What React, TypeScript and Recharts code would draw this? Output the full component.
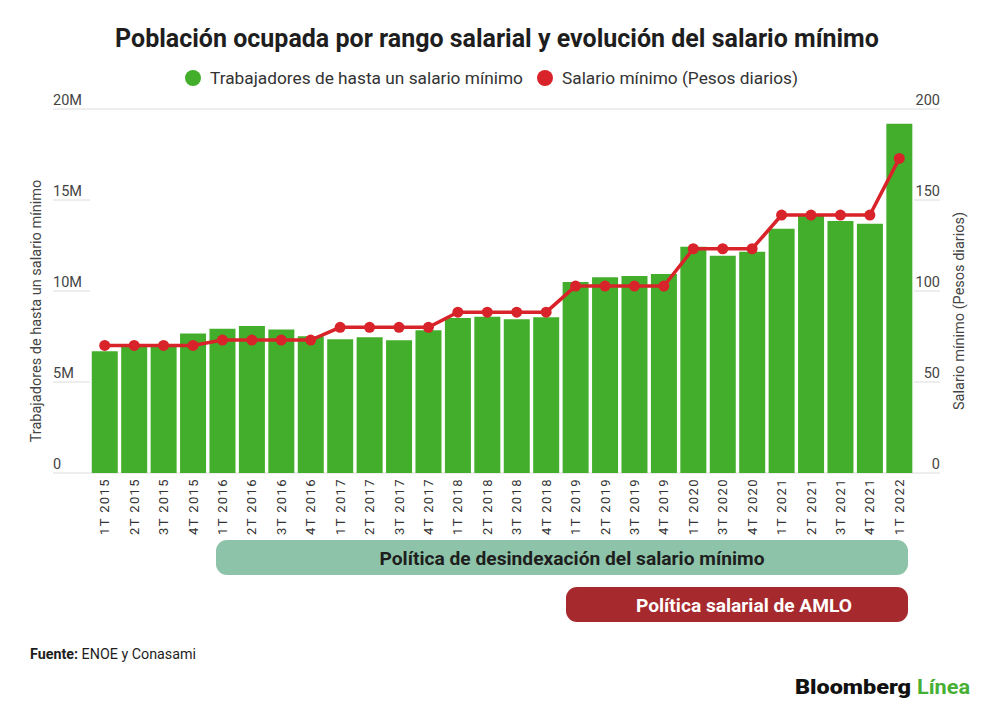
import React from "react";
import {
  ComposedChart,
  Bar,
  Line,
  XAxis,
  YAxis,
  CartesianGrid,
} from "recharts";

const categories = [
  "1T 2015", "2T 2015", "3T 2015", "4T 2015",
  "1T 2016", "2T 2016", "3T 2016", "4T 2016",
  "1T 2017", "2T 2017", "3T 2017", "4T 2017",
  "1T 2018", "2T 2018", "3T 2018", "4T 2018",
  "1T 2019", "2T 2019", "3T 2019", "4T 2019",
  "1T 2020", "3T 2020", "4T 2020",
  "1T 2021", "2T 2021", "3T 2021", "4T 2021",
  "1T 2022",
];

// workers earning up to one minimum wage (people)
const trabajadores = [
  6690000, 6930000, 6930000, 7660000,
  7920000, 8080000, 7880000, 7520000,
  7350000, 7460000, 7300000, 7850000,
  8520000, 8580000, 8450000, 8560000,
  10500000, 10760000, 10830000, 10940000,
  12430000, 11930000, 12150000,
  13420000, 14170000, 13840000, 13690000,
  19190000,
];

// daily minimum wage (pesos)
const salarioMinimo = [
  70.1, 70.1, 70.1, 70.1,
  73.04, 73.04, 73.04, 73.04,
  80.04, 80.04, 80.04, 80.04,
  88.36, 88.36, 88.36, 88.36,
  102.68, 102.68, 102.68, 102.68,
  123.22, 123.22, 123.22,
  141.7, 141.7, 141.7, 141.7,
  172.87,
];

const leftTicks = [0, 5000000, 10000000, 15000000, 20000000];
const rightTicks = [0, 50, 100, 150, 200];

const data = categories.map((periodo, i) => ({
  periodo,
  trabajadores: trabajadores[i],
  salario: salarioMinimo[i],
}));

const GREEN = "#43ae2b";
const RED = "#d9232a";
const GRID = "#dcdcdc";
const FONT = "Roboto, 'Noto Sans', sans-serif";

const W = 1000;
const H = 719;

const fmtMillones = (v: number) => (v === 0 ? "0" : `${v / 1000000}M`);

function LeftTick({ y, payload }: any) {
  return (
    <g>
      <line x1={53} x2={90} y1={y} y2={y} stroke={GRID} strokeWidth={1} />
      <text x={53} y={y - 9} dominantBaseline="central" fill="#444" fontSize={14.5} fontFamily={FONT}>
        {fmtMillones(payload.value)}
      </text>
    </g>
  );
}

function RightTick({ y, payload }: any) {
  return (
    <g>
      <line x1={914} x2={940} y1={y} y2={y} stroke={GRID} strokeWidth={1} />
      <text x={940} y={y - 9} textAnchor="end" dominantBaseline="central" fill="#444" fontSize={14.5} fontFamily={FONT}>
        {payload.value}
      </text>
    </g>
  );
}

function BottomTick({ x, payload }: any) {
  const y = 478;
  return (
    <text
      x={x}
      y={y}
      transform={`rotate(-90, ${x}, ${y})`}
      textAnchor="end"
      dominantBaseline="central"
      fill="#333"
      fontSize={13}
      letterSpacing={1.4}
      fontFamily={FONT}
    >
      {payload.value}
    </text>
  );
}

export default function App() {
  return (
    <div style={{ position: "absolute", left: 0, top: 0, width: W, height: H, background: "#fff" }}>
      <ComposedChart
        width={W}
        height={H}
        data={data}
        margin={{ top: 109, right: 0, bottom: 186, left: 0 }}
        barCategoryGap="6%"
      >
        <CartesianGrid vertical={false} stroke={GRID} />
        <XAxis
          dataKey="periodo"
          height={60}
          interval={0}
          axisLine={false}
          tickLine={false}
          tick={<BottomTick />}
        />
        <YAxis
          yAxisId="left"
          width={90}
          domain={[0, 20000000]}
          ticks={leftTicks}
          axisLine={false}
          tickLine={false}
          tick={<LeftTick />}
        />
        <YAxis
          yAxisId="right"
          orientation="right"
          width={86}
          domain={[0, 200]}
          ticks={rightTicks}
          axisLine={false}
          tickLine={false}
          tick={<RightTick />}
        />
        <Bar yAxisId="left" dataKey="trabajadores" fill={GREEN} isAnimationActive={false} />
        <Line
          yAxisId="right"
          dataKey="salario"
          type="linear"
          stroke={RED}
          strokeWidth={3.5}
          dot={{ r: 5.5, fill: RED, stroke: "none" }}
          isAnimationActive={false}
        />
      </ComposedChart>

      <svg
        width={W}
        height={H}
        style={{ position: "absolute", left: 0, top: 0, pointerEvents: "none" }}
        fontFamily={FONT}
      >
        <text x={497} y={47} textAnchor="middle" fontSize={25} fontWeight={700} fill="#1e1e1e">
          Población ocupada por rango salarial y evolución del salario mínimo
        </text>

        <circle cx={193} cy={78} r={8} fill={GREEN} />
        <text x={210} y={78} dominantBaseline="central" fontSize={17.3} fill="#333">
          Trabajadores de hasta un salario mínimo
        </text>
        <circle cx={545} cy={78} r={8} fill={RED} />
        <text x={562} y={78} dominantBaseline="central" fontSize={17.3} fill="#333">
          Salario mínimo (Pesos diarios)
        </text>

        <text
          transform="translate(36, 311) rotate(-90)"
          textAnchor="middle"
          dominantBaseline="central"
          fontSize={14.5}
          fill="#444"
        >
          Trabajadores de hasta un salario mínimo
        </text>
        <text
          transform="translate(959, 311) rotate(-90)"
          textAnchor="middle"
          dominantBaseline="central"
          fontSize={14.5}
          fill="#444"
        >
          Salario mínimo (Pesos diarios)
        </text>

        <rect x={216} y={540} width={692} height={35} rx={11} fill="#8dc3a8" />
        <text
          x={572}
          y={558}
          textAnchor="middle"
          dominantBaseline="central"
          fontSize={18}
          fontWeight={700}
          fill="#1e1e1e"
          textLength={385}
          lengthAdjust="spacingAndGlyphs"
        >
          Política de desindexación del salario mínimo
        </text>

        <rect x={566} y={587} width={342} height={35} rx={11} fill="#a6292d" />
        <text
          x={744}
          y={605}
          textAnchor="middle"
          dominantBaseline="central"
          fontSize={18}
          fontWeight={700}
          fill="#fff"
          textLength={216}
          lengthAdjust="spacingAndGlyphs"
        >
          Política salarial de AMLO
        </text>

        <text x={30} y={659} fontSize={14} fill="#1e1e1e" textLength={166} lengthAdjust="spacingAndGlyphs">
          <tspan fontWeight={700}>Fuente:</tspan> ENOE y Conasami
        </text>

        <text x={795} y={694} fontSize={20} fontWeight={900} fill="#111" textLength={116} lengthAdjust="spacingAndGlyphs">
          Bloomberg
        </text>
        <text x={917} y={694} fontSize={20} fontWeight={700} fill="#46b035" textLength={53} lengthAdjust="spacingAndGlyphs">
          Línea
        </text>
      </svg>
    </div>
  );
}
